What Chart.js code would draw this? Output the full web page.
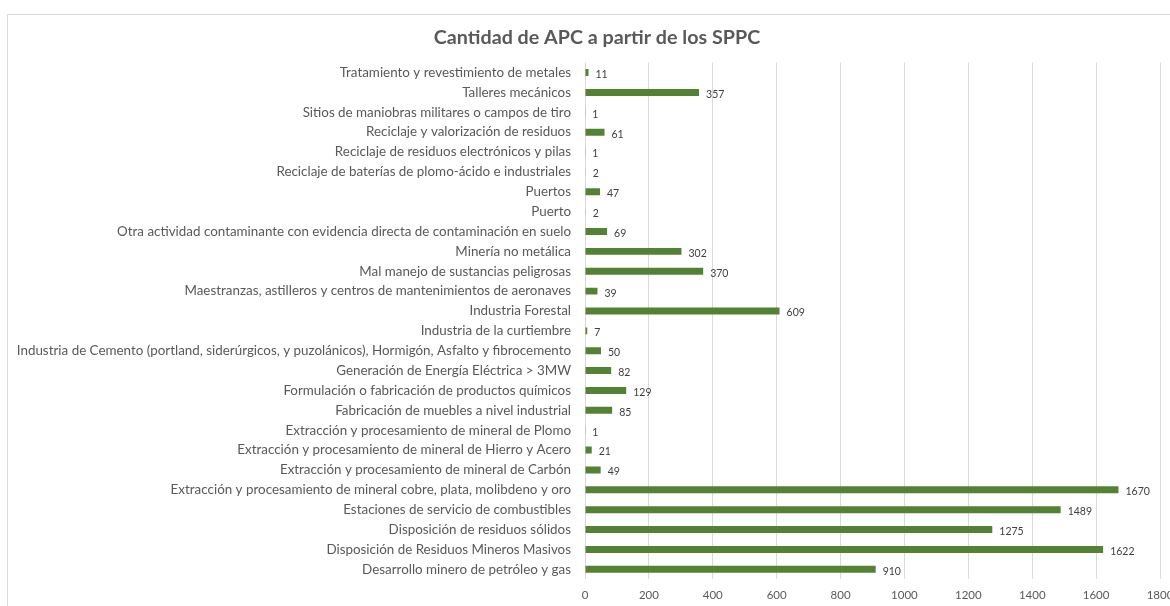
<!DOCTYPE html>
<html lang="es">
<head>
    <meta charset="UTF-8">
    <title>Cantidad de APC a partir de los SPPC</title>
    <script src="https://cdn.jsdelivr.net/npm/chart.js"></script>
    <style>
        html, body { margin: 0; padding: 0; background: #fff; overflow: hidden; width: 1170px; height: 606px; }
        #frame { position: absolute; left: 7px; top: 14px; width: 1180px; height: 600px; border: 1px solid #d9d9d9; box-sizing: border-box; }
        #box { position: absolute; left: 7px; top: 14px; width: 1180px; height: 600px; }
    </style>
</head>
<body>
    <div id="frame"></div>
    <div id="box"><canvas id="myChart" width="1180" height="600"></canvas></div>

    <script>
        const categories = [
            'Tratamiento y revestimiento de metales',
            'Talleres mecánicos',
            'Sitios de maniobras militares o campos de tiro',
            'Reciclaje y valorización de residuos',
            'Reciclaje de residuos electrónicos y pilas',
            'Reciclaje de baterías de plomo-ácido e industriales',
            'Puertos',
            'Puerto',
            'Otra actividad contaminante con evidencia directa de contaminación en suelo',
            'Minería no metálica',
            'Mal manejo de sustancias peligrosas',
            'Maestranzas, astilleros y centros de mantenimientos de aeronaves',
            'Industria Forestal',
            'Industria de la curtiembre',
            'Industria de Cemento (portland, siderúrgicos, y puzolánicos), Hormigón, Asfalto y fibrocemento',
            'Generación de Energía Eléctrica > 3MW',
            'Formulación o fabricación de productos químicos',
            'Fabricación de muebles a nivel industrial',
            'Extracción y procesamiento de mineral de Plomo',
            'Extracción y procesamiento de mineral de Hierro y Acero',
            'Extracción y procesamiento de mineral de Carbón',
            'Extracción y procesamiento de mineral cobre, plata, molibdeno y oro',
            'Estaciones de servicio de combustibles',
            'Disposición de residuos sólidos',
            'Disposición de Residuos Mineros Masivos',
            'Desarrollo minero de petróleo y gas'
        ];
        const counts = [11, 357, 1, 61, 1, 2, 47, 2, 69, 302, 370, 39, 609, 7, 50, 82, 129, 85, 1, 21, 49, 1670, 1489, 1275, 1622, 910];
        const xTicks = [0, 200, 400, 600, 800, 1000, 1200, 1400, 1600, 1800];

        const fontFamily = 'Lato, "Open Sans", sans-serif';

        // pick the category font size so the longest label is as wide as in the original
        const measure = document.createElement('canvas').getContext('2d');
        measure.font = '12px ' + fontFamily;
        const longest = Math.max(...categories.map(c => measure.measureText(c).width));
        const labelSize = Math.floor(12 * 556 / longest * 10) / 10;

        const valueLabels = {
            id: 'valueLabels',
            afterDatasetsDraw(chart) {
                const ctx = chart.ctx;
                const meta = chart.getDatasetMeta(0);
                ctx.save();
                ctx.font = '10.5px ' + fontFamily;
                ctx.fillStyle = '#404040';
                ctx.textBaseline = 'middle';
                ctx.textAlign = 'left';
                meta.data.forEach((bar, i) => {
                    ctx.fillText(String(counts[i]), bar.x + 7, bar.y + 2);
                });
                ctx.restore();
            }
        };

        new Chart(document.getElementById('myChart').getContext('2d'), {
            type: 'bar',
            data: {
                labels: categories,
                datasets: [{
                    label: 'Cantidad de APC',
                    data: counts,
                    backgroundColor: '#548235',
                    categoryPercentage: 1,
                    barPercentage: 0.35
                }]
            },
            options: {
                indexAxis: 'y',
                responsive: false,
                animation: false,
                layout: { padding: { left: 0, right: 0, top: 0, bottom: 3 } },
                plugins: {
                    legend: { display: false },
                    tooltip: { enabled: false },
                    title: {
                        display: true,
                        text: 'Cantidad de APC a partir de los SPPC',
                        color: '#595959',
                        font: { family: fontFamily, size: 19.7, weight: 'bold' },
                        padding: { top: 12, bottom: 13 }
                    }
                },
                scales: {
                    x: {
                        min: 0,
                        max: 1800,
                        afterBuildTicks(scale) {
                            scale.ticks = xTicks.map(v => ({ value: v }));
                        },
                        afterFit(scale) { scale.paddingRight = 27; },
                        grid: { color: '#d9d9d9', drawTicks: false },
                        border: { display: false },
                        ticks: {
                            color: '#595959',
                            font: { family: fontFamily, size: 11.5 },
                            padding: 9,
                            maxRotation: 0,
                            callback: v => String(v)
                        }
                    },
                    y: {
                        afterFit(scale) { scale.width = 578; },
                        grid: { display: false, drawTicks: false },
                        border: { display: false },
                        ticks: {
                            color: '#595959',
                            font: { family: fontFamily, size: labelSize },
                            padding: 14,
                            autoSkip: false
                        }
                    }
                }
            },
            plugins: [valueLabels]
        });
    </script>
</body>
</html>
